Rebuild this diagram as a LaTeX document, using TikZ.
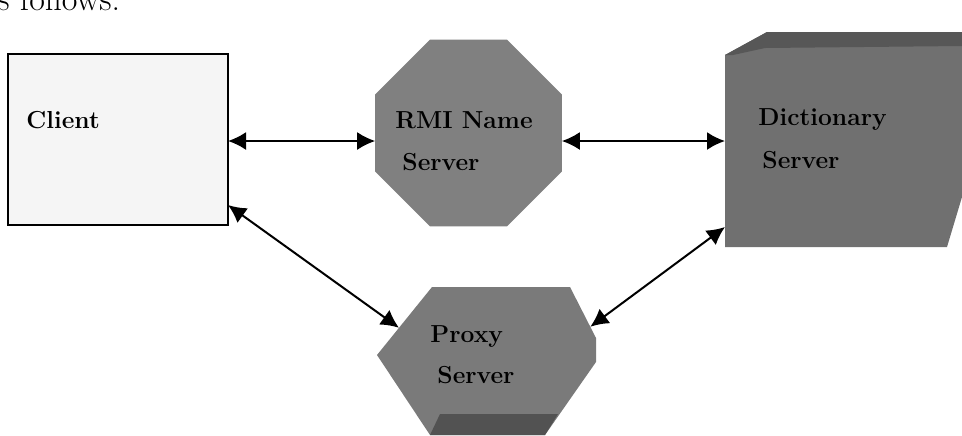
\documentclass[tikz,border=0pt]{standalone}
\usetikzlibrary{shapes.geometric,arrows.meta,calc}
\tikzset{
  lbl/.style={font=\fontsize{12.3}{14}\selectfont\bfseries,anchor=base west,inner sep=0pt},
  box/.style={inner sep=0pt,outer sep=0pt},
  link/.style={<->,>={Latex[length=9pt,width=9pt]},line width=1pt},
}
\begin{document}
\begin{tikzpicture}[x=0.5pt,y=-0.5pt]
  \useasboundingbox (0,0) rectangle (962,435);
  % running text cut by the top edge
  \node[font=\fontsize{17}{20}\selectfont,anchor=base west,inner sep=0pt] (intro) at (-3,10) {s follows:};
  % client
  \node[box,draw,line width=1pt,fill=black!4,minimum width=110pt,minimum height=85.5pt] (client) at (118,139.5) {};
  \node[lbl] (clienttxt) at (26,128) {Client};
  % RMI name server
  \node[box,fill=black!50,regular polygon,regular polygon sides=8,minimum size=101pt] (rmi) at (468.5,133) {};
  \node[lbl] (rmitxt1) at (395,128) {RMI Name};
  \node[lbl] (rmitxt2) at (402,170) {Server};
  % dictionary server
  \node[box,minimum width=118.5pt,minimum height=107.5pt] (dict) at (843.5,139.5) {};
  \fill[black!56] ($(dict.north west)+(0,23)$) -- ($(dict.north west)+(42,0)$) -- (dict.north east)
    -- ($(dict.south east)+(0,-50)$) -- ($(dict.south east)+(-15,0)$) -- (dict.south west) -- cycle;
  \fill[black!66] ($(dict.north west)+(0,23)$) -- ($(dict.north west)+(42,0)$) -- (dict.north east)
    -- ($(dict.north east)+(0,14)$) -- ($(dict.north west)+(40,16)$) -- ($(dict.north west)+(8,23)$) -- cycle;
  \node[lbl] (dicttxt1) at (758,125) {Dictionary};
  \node[lbl] (dicttxt2) at (762,168) {Server};
  % proxy server
  \node[box,minimum width=109.5pt,minimum height=74pt] (proxy) at (486.5,361) {};
  \coordinate (p1) at ($(proxy.north west)+(55,0)$);
  \coordinate (p2) at ($(proxy.north east)+(-26,0)$);
  \coordinate (p3) at ($(proxy.east)+(0,-23)$);
  \coordinate (p4) at ($(proxy.east)+(0,1)$);
  \coordinate (p5) at ($(proxy.south east)+(-51,0)$);
  \coordinate (p6) at ($(proxy.south west)+(53,0)$);
  \coordinate (p7) at ($(proxy.west)+(0,-6)$);
  \fill[black!52] (p1) -- (p2) -- (p3) -- (p4) -- (p5) -- (p6) -- (p7) -- cycle;
  \fill[black!68] ($(p6)+(10,-21)$) -- ($(p5)+(13,-21)$) -- (p5) -- (p6) -- cycle;
  \node[lbl] (proxytxt1) at (430,342) {Proxy};
  \node[lbl] (proxytxt2) at (437,383) {Server};
  % links
  \coordinate (lvl) at (0,141);
  \draw[link] (client.east |- lvl) -- (rmi.west |- lvl);
  \draw[link] (rmi.east |- lvl) -- (dict.west |- lvl);
  \draw[link] ($(client.south east)+(0,-20)$) -- ($(p7)!0.4!(p1)$);
  \draw[link] ($(dict.south west)+(0,-20)$) -- ($(p2)!0.78!(p3)$);
\end{tikzpicture}
\end{document}
